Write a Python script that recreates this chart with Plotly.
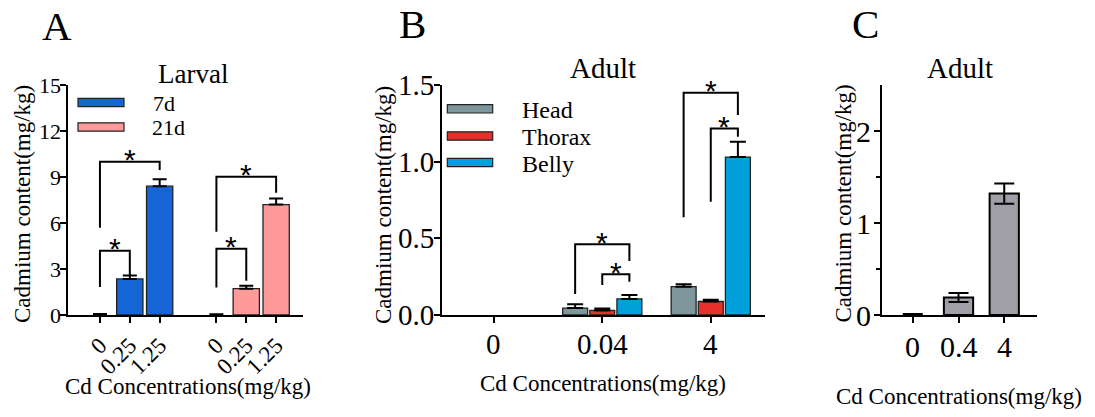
import numpy as np
import plotly.graph_objects as go

W, H = 1095, 417
SERIF = "Liberation Serif"
SANS = "Liberation Sans"

# ---------------- data ----------------
# Panel A (Larval)
a_conc = ["0", "0.25", "1.25"]
a_7d = [0.0, 2.35, 8.4]
a_7d_err = [0.07, 0.22, 0.45]
a_21d = [0.0, 1.72, 7.2]
a_21d_err = [0.05, 0.18, 0.4]
a_yticks = [0, 3, 6, 9, 12, 15]

# Panel B (Adult, body parts)
b_conc = ["0", "0.04", "4"]
b_head = [0.0, 0.045, 0.185]
b_head_err = [np.nan, 0.025, 0.016]
b_thorax = [0.0, 0.03, 0.088]
b_thorax_err = [np.nan, 0.012, 0.012]
b_belly = [0.0, 0.105, 1.03]
b_belly_err = [np.nan, 0.025, 0.10]
b_yticks = [0.0, 0.5, 1.0, 1.5]

# Panel C (Adult)
c_conc = ["0", "0.4", "4"]
c_adult = [0.0, 0.19, 1.32]
c_adult_err = [0.01, 0.05, 0.11]
c_yticks = [0, 1, 2]
c_yminor = [0.5, 1.5]

# significance brackets: (x_left, x_right, y_left_foot, y_top, y_right_foot)
a_brackets = [(0, 1, 1.83, 4.19, 2.61), (0, 2, 5.69, 10.0, 9.46),
              (3.9, 4.9, 1.8, 4.32, 2.24), (3.9, 5.9, 5.43, 9.02, 7.98)]
b_brackets = [(0.75, 1.25, 0.137, 0.461, 0.352), (1.0, 1.25, 0.196, 0.265, 0.217),
              (1.75, 2.25, 0.637, 1.45, 1.304), (2.0, 2.25, 0.739, 1.217, 1.163)]

# ---------------- layout helpers ----------------
def px(v):
    return v / W

def py(v):
    return 1 - v / H

a_pos_7d = [0, 1, 2]
a_pos_21d = [3.9, 4.9, 5.9]
b_pos = [0, 1, 2]
c_pos = [0, 1, 2]

C_BLUE = "#1565D6"
C_PINK = "#FF9A9A"
C_HEAD = "#7D979D"
C_THOR = "#E8302B"
C_BELLY = "#00A0DA"
C_GRAY = "#A09FA7"
EDGE = "#222222"

fig = go.Figure()

def err(arr, minus=None, w=7):
    d = dict(type="data", array=np.array(arr, dtype=float), color="black", thickness=2, width=w, visible=True)
    if minus is not None:
        d["symmetric"] = False
        d["arrayminus"] = np.array(minus, dtype=float)
    return d

def edge(vals, w=1.3, color=EDGE):
    return dict(color=color, width=[w if v > 0 else 0 for v in vals])

# Panel A
fig.add_trace(go.Bar(x=a_pos_7d, y=a_7d, width=0.88, marker=dict(color=C_BLUE, line=edge(a_7d)),
                     error_y=err(a_7d_err, [0, 0, 0], 7), xaxis="x", yaxis="y", showlegend=False, name="7d"))
fig.add_trace(go.Bar(x=a_pos_21d, y=a_21d, width=0.88, marker=dict(color=C_PINK, line=edge(a_21d)),
                     error_y=err(a_21d_err, [0, 0, 0], 7), xaxis="x", yaxis="y", showlegend=False, name="21d"))

# Panel B
bw = 0.23
for vals, errs, col, off, nm in [(b_head, b_head_err, C_HEAD, -0.25, "Head"),
                                 (b_thorax, b_thorax_err, C_THOR, 0.0, "Thorax"),
                                 (b_belly, b_belly_err, C_BELLY, 0.25, "Belly")]:
    minus = [np.nan if np.isnan(e) else 0 for e in errs]
    fig.add_trace(go.Bar(x=b_pos, y=vals, width=bw, offset=off - bw / 2,
                         marker=dict(color=col, line=edge(vals)),
                         error_y=err(errs, minus, 8), xaxis="x2", yaxis="y2", showlegend=False, name=nm))

# Panel C
fig.add_trace(go.Bar(x=c_pos, y=c_adult, width=0.64, marker=dict(color=C_GRAY, line=edge(c_adult, 2, "black")),
                     error_y=err(c_adult_err, None, 10), xaxis="x3", yaxis="y3", showlegend=False, name="Adult"))

shapes = []
annotations = []

def add_brackets(brs, xref, yref, star_size):
    for xl, xr, yl, yt, yr in brs:
        shapes.append(dict(type="path", xref=xref, yref=yref,
                           path=f"M {xl},{yl} L {xl},{yt} L {xr},{yt} L {xr},{yr}",
                           line=dict(color="black", width=2)))
        annotations.append(dict(x=(xl + xr) / 2, y=yt, xref=xref, yref=yref, text="*", showarrow=False,
                                yanchor="middle", yshift=2, font=dict(family=SANS, size=star_size, color="black")))

add_brackets(a_brackets, "x", "y", 30)
add_brackets(b_brackets, "x2", "y2", 30)

def ann(text, x, y, size, angle=0, xanchor="center", family=SERIF):
    annotations.append(dict(text=text, x=px(x), y=py(y), xref="paper", yref="paper", showarrow=False,
                            xanchor=xanchor, yanchor="middle", textangle=angle,
                            font=dict(family=family, size=size, color="black")))

# tick labels placed through the axes' own scales
def ytick_labels(vals, texts, xax, yax, size, shift):
    for v, t in zip(vals, texts):
        annotations.append(dict(text=t, x=0, xref=f"{xax} domain", y=v, yref=yax, showarrow=False,
                                xanchor="right", yanchor="middle", xshift=shift,
                                font=dict(family=SERIF, size=size, color="black")))

def xtick_labels(vals, texts, xax, yax, size, shift):
    for v, t in zip(vals, texts):
        annotations.append(dict(text=t, x=v, xref=xax, y=0, yref=f"{yax} domain", showarrow=False,
                                xanchor="center", yanchor="middle", yshift=shift,
                                font=dict(family=SERIF, size=size, color="black")))

ytick_labels(a_yticks, [str(v) for v in a_yticks], "x", "y", 22, -5)
ytick_labels(b_yticks, [f"{v:.1f}" for v in b_yticks], "x2", "y2", 29, -6)
ytick_labels(c_yticks, [str(v) for v in c_yticks], "x3", "y3", 30, -9)
xtick_labels(b_pos, b_conc, "x2", "y2", 29, -29)
xtick_labels(c_pos, c_conc, "x3", "y3", 30, -31.5)

# panel letters
ann("A", 56.5, 26, 41)
ann("B", 412.5, 24, 41)
ann("C", 865, 24, 41)
# titles
ann("Larval", 192.5, 74, 27)
ann("Adult", 603, 68, 29)
ann("Adult", 959.5, 68, 29)
# axis titles
ytitle = "Cadmium content(mg/kg)"
xtitle = "Cd Concentrations(mg/kg)"
ann(ytitle, 22, 204, 23, -90)
ann(ytitle, 383, 205, 23, -90)
ann(ytitle, 842.5, 204, 23, -90)
ann(xtitle, 188.3, 386.7, 23)
ann(xtitle, 602.5, 383, 23)
ann(xtitle, 959, 396, 23)

# custom legends
def legend_entry(x0, x1, yc, color, label, tx, size):
    shapes.append(dict(type="rect", xref="paper", yref="paper", x0=px(x0), x1=px(x1),
                       y0=py(yc + 4.2), y1=py(yc - 4.2), fillcolor=color, line=dict(color=EDGE, width=1.2)))
    ann(label, tx, yc + 1, size, 0, "left")

legend_entry(78, 124, 102.5, C_BLUE, "7d", 151, 22)
legend_entry(78, 124, 127, C_PINK, "21d", 150, 22)
legend_entry(447.3, 492.7, 108.8, C_HEAD, "Head", 520, 24)
legend_entry(447.3, 492.7, 136, C_THOR, "Thorax", 520, 24)
legend_entry(447.3, 492.7, 162.5, C_BELLY, "Belly", 520, 24)

ydom = [py(315), py(85)]
axis_common = dict(showline=True, linecolor="black", linewidth=2, ticks="outside", tickcolor="black",
                   tickwidth=2, ticklen=6, showgrid=False, zeroline=False, automargin=False)

fig.update_layout(
    width=W, height=H, margin=dict(l=0, r=0, t=0, b=0, pad=0, autoexpand=False),
    paper_bgcolor="white", plot_bgcolor="white", barmode="overlay",
    font=dict(family=SERIF, color="black"),
    shapes=shapes, annotations=annotations,
    xaxis=dict(domain=[px(68.3), px(303.3)], range=[-1.06, 6.81], tickvals=a_pos_7d + a_pos_21d,
               ticktext=a_conc + a_conc, tickangle=-45, tickfont=dict(family=SERIF, size=23),
               anchor="y", **axis_common),
    yaxis=dict(domain=ydom, range=[0, 15], tickvals=a_yticks, showticklabels=False,
               anchor="x", **axis_common),
    xaxis2=dict(domain=[px(441.7), px(765)], range=[-0.48, 2.5], tickvals=b_pos, showticklabels=False,
                anchor="y2", **axis_common),
    yaxis2=dict(domain=ydom, range=[0, 1.5], tickvals=b_yticks, showticklabels=False,
                anchor="x2", **axis_common),
    xaxis3=dict(domain=[px(881.7), px(1036.7)], range=[-0.68, 2.71], tickvals=c_pos, showticklabels=False,
                anchor="y3", **axis_common),
    yaxis3=dict(domain=ydom, range=[0, 2.5], tickvals=c_yticks, showticklabels=False,
                minor=dict(tickvals=c_yminor, ticks="outside", ticklen=4, tickwidth=2, tickcolor="black"),
                anchor="x3", **axis_common),
)

fig.write_html("out.html")
